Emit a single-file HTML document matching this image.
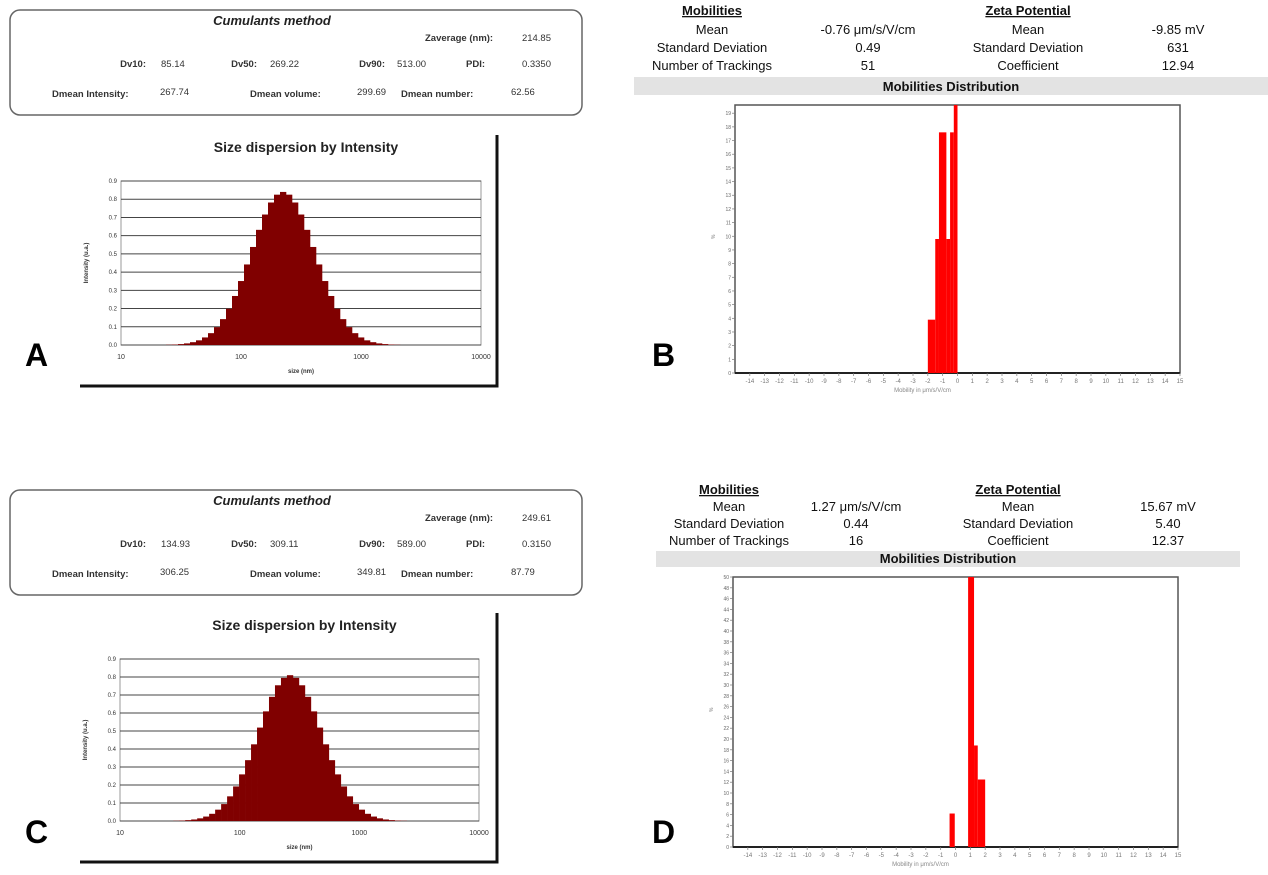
<!DOCTYPE html>
<html><head><meta charset="utf-8"><style>
html,body{margin:0;padding:0;background:#fff;}
svg{display:block;font-family:"Liberation Sans",sans-serif;}
</style></head><body>
<svg id="fig" width="1268" height="875" viewBox="0 0 1268 875" xmlns="http://www.w3.org/2000/svg"></svg>
<script>
// ---- Data ----
const logSizeA = [1.40,1.45,1.50,1.55,1.60,1.65,1.70,1.75,1.80,1.85,1.90,1.95,2.00,2.05,2.10,2.15,2.20,2.25,2.30,2.35,2.40,2.45,2.50,2.55,2.60,2.65,2.70,2.75,2.80,2.85,2.90,2.95,3.00,3.05,3.10,3.15,3.20,3.25,3.30];
const intensityA = [.0014,.0026,.005,.0088,.0154,.0256,.0415,.065,.098,.142,.199,.269,.351,.442,.538,.632,.716,.782,.825,.84,.825,.782,.716,.632,.538,.442,.351,.269,.199,.142,.098,.065,.0415,.0256,.0154,.0088,.005,.0026,.0014];
const logSizeC = [1.47,1.52,1.57,1.62,1.67,1.72,1.77,1.82,1.87,1.92,1.97,2.02,2.07,2.12,2.17,2.22,2.27,2.32,2.37,2.42,2.47,2.52,2.57,2.62,2.67,2.72,2.77,2.82,2.87,2.92,2.97,3.02,3.07,3.12,3.17,3.22,3.27,3.32,3.37];
const intensityC = [.0013,.0025,.0048,.0085,.0148,.0247,.040,.063,.094,.137,.192,.259,.338,.426,.519,.609,.690,.754,.795,.81,.795,.754,.690,.609,.519,.426,.338,.259,.192,.137,.094,.063,.040,.0247,.0148,.0085,.0048,.0025,.0013];
const sizeTicks = ["10","100","1000","10000"];
const intensityTicks = ["0.0","0.1","0.2","0.3","0.4","0.5","0.6","0.7","0.8","0.9"];
const mobStartB = [-2.0,-1.5,-1.25,-0.75,-0.5,-0.25];
const mobEndB   = [-1.5,-1.25,-0.75,-0.5,-0.25,0.0];
const pctB      = [3.9,9.8,17.6,9.8,17.6,19.6];
const mobStartD = [-0.4,0.85,1.25,1.5];
const mobEndD   = [-0.05,1.25,1.5,2.0];
const pctD      = [6.2,50,18.8,12.5];
const mobTicks = [-14,-13,-12,-11,-10,-9,-8,-7,-6,-5,-4,-3,-2,-1,0,1,2,3,4,5,6,7,8,9,10,11,12,13,14,15];

const NS="http://www.w3.org/2000/svg", svg=document.getElementById('fig');
function mk(tag,at,parent){const e=document.createElementNS(NS,tag);for(const k in at)e.setAttribute(k,at[k]);(parent||svg).appendChild(e);return e;}
function txt(x,y,s,at,name){const e=mk('text',Object.assign({x:x,y:y},at));e.textContent=s;


return e;}

// ---- Cumulants boxes ----
function cumBox(oy, v, name){
  const r=mk('rect',{x:10,y:10+oy,width:572,height:105,rx:10,fill:'#fff',stroke:'#666','stroke-width':1.5});
  
  
  const f={'font-size':9.5,fill:'#333','font-weight':'bold'};
  const g={'font-size':9.5,fill:'#333'};
  txt(272,25+oy,'Cumulants method',{'font-size':13,'font-style':'italic','font-weight':'bold','text-anchor':'middle',fill:'#222'},'cumulants-title');
  txt(425,41+oy,'Zaverage (nm):',f,'zaverage-label'); txt(551,41+oy,v[0],Object.assign({'text-anchor':'end'},g),'zaverage-value');
  txt(146,67+oy,'Dv10:',Object.assign({'text-anchor':'end'},f),'dv10-label'); txt(161,67+oy,v[1],g,'dv10-value');
  txt(257,67+oy,'Dv50:',Object.assign({'text-anchor':'end'},f),'dv50-label'); txt(270,67+oy,v[2],g,'dv50-value');
  txt(385,67+oy,'Dv90:',Object.assign({'text-anchor':'end'},f),'dv90-label'); txt(397,67+oy,v[3],g,'dv90-value');
  txt(466,67+oy,'PDI:',f,'pdi-label'); txt(551,67+oy,v[4],Object.assign({'text-anchor':'end'},g),'pdi-value');
  txt(52,97+oy,'Dmean Intensity:',f,'dmean-intensity-label'); txt(160,95+oy,v[5],g,'dmean-intensity-value');
  txt(250,97+oy,'Dmean volume:',f,'dmean-volume-label'); txt(357,95+oy,v[6],g,'dmean-volume-value');
  txt(401,97+oy,'Dmean number:',f,'dmean-number-label'); txt(511,95+oy,v[7],g,'dmean-number-value');
}
cumBox(0,['214.85','85.14','269.22','513.00','0.3350','267.74','299.69','62.56'],'cumulants-box-a');
cumBox(480,['249.61','134.93','309.11','589.00','0.3150','306.25','349.81','87.79'],'cumulants-box-c');

// ---- Size dispersion charts ----
function sizeChart(L,R,T,B,frameTop,frameBot,titleY,xs,ys,name){
  const xS=l=>L+(l-1)/3*(R-L), yS=v=>B-v/0.9*(B-T);
  const fr=mk('path',{d:`M497 ${frameTop} V${frameBot} H80`,fill:'none',stroke:'#111','stroke-width':3});
  
  
  txt((L+R)/2+5,titleY,'Size dispersion by Intensity',{'font-size':14,'font-weight':'bold','text-anchor':'middle',fill:'#222'},name+'-title');
  mk('rect',{x:L,y:T,width:R-L,height:B-T,fill:'#fff',stroke:'#999','stroke-width':1});
  intensityTicks.forEach((t,i)=>{const y=yS(parseFloat(t));
    const l=mk('line',{x1:L,x2:R,y1:y,y2:y,stroke:'#444','stroke-width':1});
    
    
    txt(L-4,y+2,t,{'font-size':6,'text-anchor':'end',fill:'#333'},'y-tick-label');});
  sizeTicks.forEach((t,i)=>{txt(xS(Math.log10(parseFloat(t))),B+14,t,{'font-size':7,'text-anchor':'middle',fill:'#333'},'x-tick-label');});
  txt((L+R)/2,B+28,'size (nm)',{'font-size':6,'text-anchor':'middle',fill:'#333','font-weight':'bold'},'x-axis-title');
  const yt=txt(0,0,'Intensity (u.a.)',{'font-size':6,'text-anchor':'middle',fill:'#333','font-weight':'bold',transform:`translate(${L-33},${(T+B)/2}) rotate(-90)`},'y-axis-title');
  const step=xs[1]-xs[0];
  for(let i=0;i<xs.length;i++){
    const x0=xS(xs[i]-step/2), x1=xS(xs[i]+step/2), y=yS(ys[i]);
    const b=mk('rect',{x:x0,y:y,width:x1-x0+0.3,height:B-y,fill:'#800000'});
    
    
  }
}
sizeChart(121,481,181,345,135,386,152,logSizeA,intensityA,'size-chart-a');
sizeChart(120,479,659,821,613,862,630,logSizeC,intensityC,'size-chart-c');

// ---- Mobility tables ----
function table(cols,rows,ys,bar,vals,name){
  const f={'font-size':13,'text-anchor':'middle',fill:'#111'};
  const h1=txt(cols[0],ys[0],'Mobilities',Object.assign({'font-weight':'bold','text-decoration':'underline'},f),'mobilities-header');
  const h2=txt(cols[2],ys[0],'Zeta Potential',Object.assign({'font-weight':'bold','text-decoration':'underline'},f),'zeta-header');
  const lab1=['Mean','Standard Deviation','Number of Trackings'], lab2=['Mean','Standard Deviation','Coefficient'];
  for(let i=0;i<3;i++){
    txt(cols[0],ys[i+1],lab1[i],f,'mobility-row-label');
    txt(cols[1],ys[i+1],vals[i],f,'mobility-row-value');
    txt(cols[2],ys[i+1],lab2[i],f,'zeta-row-label');
    txt(cols[3],ys[i+1],vals[i+3],f,'zeta-row-value');
  }
  const r=mk('rect',{x:bar[0],y:bar[1],width:bar[2]-bar[0],height:bar[3]-bar[1],fill:'#e3e3e3'});
  
  
  txt((bar[0]+bar[2])/2,bar[3]-4,'Mobilities Distribution',Object.assign({'font-weight':'bold'},f),'distribution-title');
}
table([712,868,1028,1178],[],[15,34,52,70],[634,77,1268,95],['-0.76 μm/s/V/cm','0.49','51','-9.85 mV','631','12.94'],'table-b');
table([729,856,1018,1168],[],[494,511,528,545],[656,551,1240,567],['1.27 μm/s/V/cm','0.44','16','15.67 mV','5.40','12.37'],'table-d');

// ---- Mobility charts ----
function mobChart(L,R,T,B,ymax,ystep,xs0,xs1,ys,name){
  const xS=v=>L+(v+15)/30*(R-L), yS=v=>B-v/ymax*(B-T);
  const fr=mk('rect',{x:L,y:T,width:R-L,height:B-T,fill:'#fff',stroke:'#555','stroke-width':1.5});
  
  
  mk('line',{x1:L,x2:R,y1:B,y2:B,stroke:'#222','stroke-width':2});
  for(let v=0;v<=ymax+0.01;v+=ystep){const y=yS(v);
    mk('line',{x1:L-3,x2:L,y1:y,y2:y,stroke:'#777','stroke-width':0.7});
    txt(L-4,y+2,String(v),{'font-size':5,'text-anchor':'end',fill:'#666'},'y-tick-label');}
  mobTicks.forEach(t=>{const x=xS(t);
    mk('line',{x1:x,x2:x,y1:B,y2:B+3,stroke:'#777','stroke-width':0.7});
    txt(x,B+10,String(t),{'font-size':6,'text-anchor':'middle',fill:'#777'},'x-tick-label');});
  txt((L+R)/2-35,B+19,'Mobility  in  μm/s/V/cm',{'font-size':6,'text-anchor':'middle',fill:'#888'},'x-axis-title');
  txt(L-20,(T+B)/2,'%',{'font-size':5,fill:'#777',transform:`rotate(-90 ${L-20} ${(T+B)/2})`},'y-axis-title');
  for(let i=0;i<ys.length;i++){
    const x0=xS(xs0[i]),x1=xS(xs1[i]),y=yS(Math.min(ys[i],ymax));
    const b=mk('rect',{x:x0,y:y,width:x1-x0,height:B-y,fill:'#ff0000'});
    
    
  }
}
mobChart(735,1180,105,373,19.6,1,mobStartB,mobEndB,pctB,'mobility-chart-b');
mobChart(733,1178,577,847,50,2,mobStartD,mobEndD,pctD,'mobility-chart-d');

// ---- Panel letters ----
[['A',25,366],['B',652,366],['C',25,843],['D',652,843]].forEach(p=>{
  const t=txt(p[1],p[2],p[0],{'font-size':32,'font-weight':'bold',fill:'#000'},'panel-letter');
});
</script>
</body></html>
